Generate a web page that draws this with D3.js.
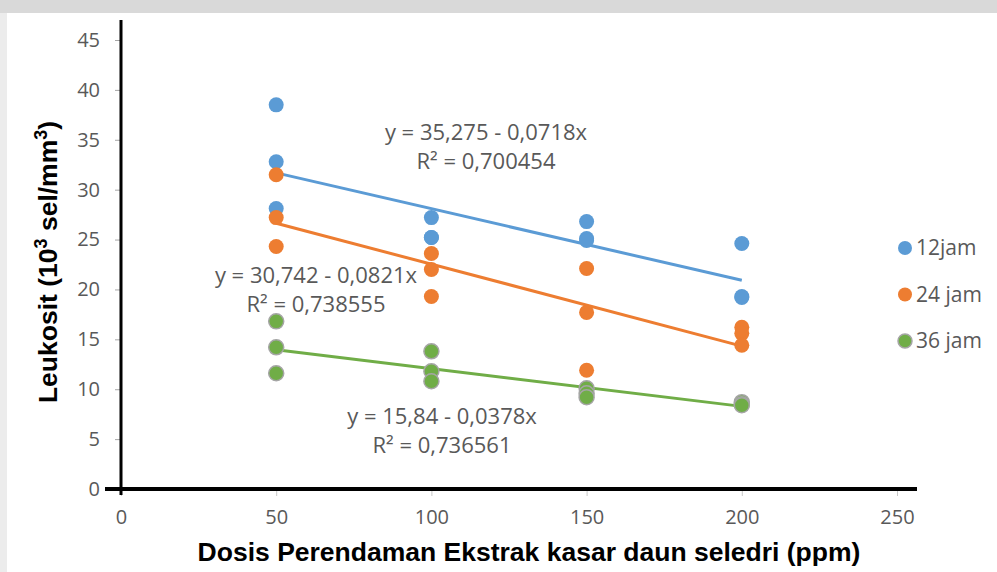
<!DOCTYPE html>
<html lang="en">
<head>
<meta charset="UTF-8">
<title>Leukosit</title>
<script src="https://cdn.jsdelivr.net/npm/d3@7"></script>
<style>
  body { margin: 0; background: #fff; }
  svg { display: block; }
</style>
</head>
<body>
<script>
  // doses (ppm) and the three readings per dose for each soaking time
  const doses = [50, 100, 150, 200];
  const jam12 = [[38.5, 32.8, 28.1], [27.2, 25.2, 25.2], [26.8, 25.1, 24.9], [24.6, 19.3, 19.2]];
  const jam24 = [[31.5, 27.2, 24.3], [23.6, 22.0, 19.3], [22.1, 17.7, 11.9], [16.2, 15.6, 14.4]];
  const jam36 = [[16.8, 14.2, 11.6], [13.8, 11.8, 10.8], [10.1, 9.6, 9.2], [8.7, 8.5, 8.4]];
  const seriesNames = ["12jam", "24 jam", "36 jam"];
  const colors = ["#5b9bd5", "#ed7d31", "#70ad47"];
  // trendline coefficients as printed on the chart
  const intercepts = [35.275, 30.742, 15.84];
  const slopes = [-0.0718, -0.0821, -0.0378];
  const eqLabels = [
    ["y = 35,275 - 0,0718x", "R² = 0,700454"],
    ["y = 30,742 - 0,0821x", "R² = 0,738555"],
    ["y = 15,84 - 0,0378x", "R² = 0,736561"]
  ];
  const xTicks = [0, 50, 100, 150, 200, 250];
  const yTicks = [0, 5, 10, 15, 20, 25, 30, 35, 40, 45];

  const W = 997, H = 572;
  const svg = d3.select("body").append("svg").attr("width", W).attr("height", H);

  // scanned page background bits
  svg.append("rect").attr("x", 0).attr("y", 0).attr("width", W).attr("height", 13).attr("fill", "#d9d9d9");
  svg.append("rect").attr("x", 0).attr("y", 13).attr("width", 7).attr("height", H - 13).attr("fill", "#ececec");

  const x = d3.scaleLinear().domain([0, 250]).range([121, 897]);
  const y = d3.scaleLinear().domain([0, 45]).range([489, 40]);

  const tickFont = "'Open Sans', 'Noto Sans', sans-serif";
  const titleFont = "'Liberation Sans', Arial, sans-serif";

  // y axis ticks + labels
  const yAxis = svg.append("g").attr("transform", `translate(${x(0)},0)`)
    .call(d3.axisLeft(y).tickValues(yTicks).tickSize(6).tickPadding(15));
  yAxis.select(".domain").remove();
  yAxis.selectAll(".tick line").attr("stroke", "#a6a6a6");
  yAxis.selectAll(".tick text").attr("fill", "#595959").style("font-family", tickFont).style("font-size", "20px");

  // x axis ticks + labels
  const xAxis = svg.append("g").attr("transform", `translate(0,${y(0)})`)
    .call(d3.axisBottom(x).tickValues(xTicks).tickSize(7).tickPadding(14));
  xAxis.select(".domain").remove();
  xAxis.selectAll(".tick line").attr("stroke", "#c8c8c8");
  xAxis.selectAll(".tick text").attr("fill", "#595959").style("font-family", tickFont).style("font-size", "20px");

  // heavy black axis lines
  svg.append("line").attr("x1", x(0)).attr("x2", x(0)).attr("y1", 20).attr("y2", y(0) + 6)
    .attr("stroke", "#000").attr("stroke-width", 3);
  svg.append("line").attr("x1", 105).attr("x2", 917).attr("y1", y(0)).attr("y2", y(0))
    .attr("stroke", "#000").attr("stroke-width", 4);

  const all = [jam12, jam24, jam36];

  // trendlines
  all.forEach((s, i) => {
    const ends = [doses[0], doses[doses.length - 1]];
    svg.append("line")
      .attr("x1", x(ends[0])).attr("y1", y(intercepts[i] + slopes[i] * ends[0]))
      .attr("x2", x(ends[1])).attr("y2", y(intercepts[i] + slopes[i] * ends[1]))
      .attr("stroke", colors[i]).attr("stroke-width", 3);
  });

  // points
  all.forEach((s, i) => {
    const pts = [];
    s.forEach((vals, j) => vals.forEach(v => pts.push({ d: doses[j], v })));
    svg.append("g").selectAll("circle").data(pts).join("circle")
      .attr("cx", d => x(d.d)).attr("cy", d => y(d.v)).attr("r", 7.5)
      .attr("fill", colors[i])
      .attr("stroke", i === 2 ? "#a5a5a5" : "none").attr("stroke-width", 1.5);
  });

  // equations
  const eqPos = [[486, 132], [316, 275], [442, 416]];
  eqLabels.forEach((lines, i) => {
    const t = svg.append("text").attr("text-anchor", "middle")
      .attr("fill", "#595959").style("font-family", tickFont).style("font-size", "22px");
    lines.forEach((l, k) => {
      t.append("tspan").attr("x", eqPos[i][0]).attr("y", eqPos[i][1] + 8 + k * 29).text(l);
    });
  });

  // legend
  const leg = svg.append("g");
  seriesNames.forEach((n, i) => {
    const ly = 248 + i * 46.5;
    leg.append("circle").attr("cx", 905).attr("cy", ly).attr("r", 7)
      .attr("fill", colors[i]).attr("stroke", i === 2 ? "#a5a5a5" : "none").attr("stroke-width", 1.5);
    leg.append("text").attr("x", 916).attr("y", ly + 7).attr("fill", "#595959")
      .style("font-family", tickFont).style("font-size", "21px").text(n);
  });

  // axis titles
  svg.append("text").attr("x", 529).attr("y", 561).attr("text-anchor", "middle")
    .style("font-family", titleFont).style("font-weight", "bold").style("font-size", "26.5px")
    .attr("fill", "#000").text("Dosis Perendaman Ekstrak kasar daun seledri (ppm)");

  const yt = svg.append("text").attr("transform", "translate(57,262) rotate(-90)").attr("text-anchor", "middle")
    .style("font-family", titleFont).style("font-weight", "bold").style("font-size", "26.5px")
    .attr("fill", "#000");
  yt.append("tspan").text("Leukosit (10");
  yt.append("tspan").attr("dy", -10).style("font-size", "18px").text("3");
  yt.append("tspan").attr("dy", 10).text(" sel/mm");
  yt.append("tspan").attr("dy", -10).style("font-size", "18px").text("3");
  yt.append("tspan").attr("dy", 10).text(")");
</script>
</body>
</html>
